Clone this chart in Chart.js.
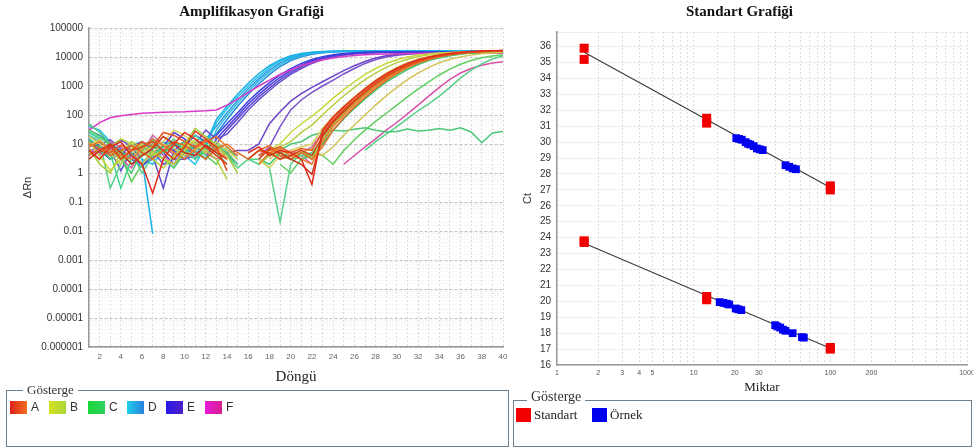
<!DOCTYPE html>
<html lang="tr">
<head>
<meta charset="utf-8">
<title>Amplifikasyon ve Standart Grafiği</title>
<script src="https://cdn.jsdelivr.net/npm/chart.js@4.4.1/dist/chart.umd.min.js"></script>
<style>
  html, body { margin: 0; padding: 0; background: #fff; overflow: hidden; }
  #page { position: relative; width: 973px; height: 448px; overflow: hidden; }
  canvas { position: absolute; top: 0; }
  #amp { left: 0; }
  #std { left: 512px; }
  .legend-box { position: absolute; box-sizing: border-box; border: 1px solid #6e7f8d; }
  .legend-title { position: absolute; background: #fff; padding: 0 4px; color: #333;
    font-family: 'Liberation Serif', 'Times New Roman', serif; white-space: nowrap; }
  .legend-items { position: absolute; display: flex; align-items: center; }
  .item { display: flex; align-items: center; }
  .sw { display: inline-block; }
  #ampLegend { left: 6px; top: 390px; width: 503px; height: 57px; }
  #ampLegend .legend-title { left: 16px; top: -9px; font-size: 13px; line-height: 15px; }
  #ampLegend .legend-items { left: 3px; top: 9px; }
  #ampLegend .item { width: 39px; font: 12px 'Liberation Sans', Arial, sans-serif; color: #333; }
  #ampLegend .sw { width: 17px; height: 13px; margin-right: 4px; }
  #stdLegend { left: 513px; top: 400px; width: 459px; height: 47px; }
  #stdLegend .legend-title { left: 13px; top: -12px; font-size: 14px; line-height: 16px; }
  #stdLegend .legend-items { left: 2px; top: 6px; }
  #stdLegend .item { font: 13px 'Liberation Serif', 'Times New Roman', serif; color: #222; }
  #stdLegend .sw { width: 15px; height: 14px; margin-right: 3px; }
</style>
</head>
<body>
<div id="page">
  <canvas id="amp" width="510" height="390"></canvas>
  <canvas id="std" width="470" height="398"></canvas>
  <div class="legend-box" id="ampLegend">
    <span class="legend-title">Gösterge</span>
    <div class="legend-items" id="ampItems"></div>
  </div>
  <div class="legend-box" id="stdLegend">
    <span class="legend-title">Gösterge</span>
    <div class="legend-items" id="stdItems"></div>
  </div>
</div>
<script>
// ---- amplification plot data (ΔRn per cycle, null = not plotted) ----
const cycles = [1, 2, 3, 4, 5, 6, 7, 8, 9, 10, 11, 12, 13, 14, 15, 16, 17, 18, 19, 20,
  21, 22, 23, 24, 25, 26, 27, 28, 29, 30, 31, 32, 33, 34, 35, 36, 37, 38, 39, 40];

const deltaRnTicks = ['0.000001', '0.00001', '0.0001', '0.001', '0.01', '0.1', '1', '10', '100', '1000', '10000', '100000'];

const wellA1 = [
  6, 3, 8, 12, 4, 2, 0.2, 3, 10, 25,
  15, 8, 4, 2, null, 5, 8, 4, 6, 5,
  3, 0.4, 30, 85, 190, 400, 800, 1500, 2600, 4100,
  6000, 8000, 10000, 11800, 13300, 14500, 15400, 16000, 16500, 16800];
const wellA2 = [
  4, 7, 5, 9, 6, 12, 8, 25, 20, 12,
  8, 14, 6, 3, null, null, 4, 6, 8, 5,
  7, 6, 25, 70, 160, 340, 680, 1300, 2300, 3700,
  5500, 7500, 9500, 11300, 12900, 14100, 15000, 15700, 16200, 16500];
const wellA3 = [
  null, 5, 9, 3, 6, 8, 12, 6, 3, 8,
  28, 15, 8, 1.2, null, 3, 6, 5, 3, 4,
  6, 4, 18, 55, 130, 290, 600, 1150, 2050, 3400,
  5100, 7100, 9100, 10900, 12500, 13800, 14800, 15500, 16000, 16400];
const wellA4 = [
  8, 12, 6, 4, 3, 7, 15, 9, 5, 3,
  7, 12, 18, 8, 4, null, 2, 5, 7, 4,
  3, 2, 12, 40, 100, 230, 480, 950, 1750, 2950,
  4600, 6500, 8500, 10400, 12000, 13400, 14500, 15300, 15900, 16300];
const wellA5 = [
  3, 6, 10, 5, 2, 4, 7, 18, 10, 5,
  4, 9, 5, 3, null, null, 3, 7, 5, 3,
  2, 0.9, 20, 60, 140, 310, 640, 1250, 2200, 3600,
  5300, 7300, 9300, 11100, 12700, 14000, 15000, 15700, 16200, 16600];
const wellA6 = [
  10, 7, 4, 6, 9, 5, 3, 6, 12, 9,
  5, 3, 7, 10, 5, 3, 6, 9, 4, 3,
  5, 3, 8, 30, 80, 190, 400, 820, 1550, 2700,
  4300, 6200, 8200, 10200, 11900, 13300, 14400, 15200, 15800, 16200];

const wellB1 = [
  12, 4, 1.2, 3, 6, 10, 5, 3, 2, 6,
  15, 8, 4, 2, null, null, 4, 6, 10, 25,
  50, 90, 180, 380, 750, 1400, 2500, 4000, 6000, 8000,
  10000, 11500, 12800, 13700, 14300, 14800, 15100, 15300, 15400, 15500];
const wellB2 = [
  5, 3, 8, 15, 10, 6, 3, 1.5, 4, 9,
  12, 6, 3, 0.6, null, null, 2, 4, 8, 12,
  25, 45, 100, 220, 460, 900, 1650, 2800, 4400, 6400,
  8400, 10300, 11900, 13100, 14000, 14600, 15000, 15300, 15500, 15600];
const wellB3 = [
  18, 10, 5, 2, 8, 4, 9, 12, 30, 20,
  10, 5, 12, 6, 3, null, 3, 1.5, 4, 6,
  8, 10, 35, 90, 200, 420, 850, 1600, 2800, 4400,
  6400, 8500, 10400, 12000, 13300, 14300, 15000, 15500, 15800, 16000];
const wellB4 = [
  7, 2, 1, 5, 12, 8, 4, 6, 3, 10,
  35, 18, 9, 4, 1, null, 2, 5, 3, 4,
  6, 3, 14, 45, 110, 250, 520, 1000, 1850, 3100,
  4800, 6800, 8800, 10700, 12300, 13600, 14600, 15300, 15800, 16100];
const wellB5 = [
  9, 14, 6, 3, 7, 2, 5, 10, 7, 4,
  6, 15, 9, 3, null, null, null, 3, 6, 4,
  5, 7, 4, 8, 20, 45, 100, 220, 460, 900,
  1650, 2800, 4400, 6300, 8300, 10100, 11700, 12900, 13800, 14400];

const wellC1 = [
  50, 25, 10, 3, 1, 6, 10, 5, 8, 12,
  6, 3, 8, 4, 2, null, 2, 4, 6, 10,
  12, 20, 25, 30, 28, 32, 36, 30, 26, 27,
  33, 28, 30, 34, 30, 36, 26, 11, 24, 27];
const wellC2 = [
  20, 12, 0.3, 2, 5, 1, 4, 8, 15, 6,
  3, 8, 12, 4, 1.5, 3, 3, 1.5, 0.02, 2,
  5, 3, null, null, null, null, 6, 12, 22, 40,
  75, 140, 240, 450, 900, 1900, 3500, 5800, 8500, 11000];
const wellC3 = [
  25, 15, 5, 0.3, 3, 8, 14, 6, 3, 10,
  20, 10, 5, 2, null, 3, 2, 5, 4, 3,
  4, 5, 15, 45, 110, 250, 520, 1000, 1800, 3000,
  4600, 6500, 8500, 10300, 11900, 13100, 14000, 14700, 15100, 15400];
const wellC4 = [
  30, 18, 9, 4, 0.5, 2, 6, 3, 1.5, 5,
  10, 4, 2, 8, 3, null, null, null, 2, 1,
  3, 5, 4, 2, 6, 14, 30, 60, 115, 220,
  420, 780, 1400, 2400, 3800, 5600, 7600, 9400, 10900, 12000];
const wellC5 = [
  14, 8, 3, 6, 2, 4, 8, 5, 12, 7,
  3, 6, 9, 5, 2, null, 3, 2, 5, 4,
  3, 4, 10, 30, 75, 170, 360, 720, 1350, 2300,
  3700, 5500, 7500, 9400, 11100, 12500, 13600, 14400, 14900, 15200];

const wellD1 = [
  25, 15, 6, 4, null, 3, 0.008, null, 5, 8,
  4, 10, 70, 200, 520, 1250, 2700, 5000, 8000, 11000,
  13200, 14600, 15400, 15900, 16200, 16300, 16300, 16400, 16400, 16400,
  16400, 16400, 16400, 16400, 16400, 16400, 16400, 16400, 16400, 16400];
const wellD2 = [
  40, 30, 12, 5, 8, 3, 2, 6, 10, 4,
  2, 8, 55, 160, 420, 1000, 2200, 4300, 7200, 10200,
  12600, 14200, 15100, 15700, 16000, 16100, 16200, 16200, 16200, 16200,
  16200, 16200, 16200, 16200, 16200, 16200, 16200, 16200, 16200, 16200];
const wellD3 = [
  10, 6, 3, null, 2, 4, 8, 12, 6, 3,
  6, 15, 40, 120, 320, 800, 1800, 3600, 6300, 9300,
  11900, 13700, 14800, 15400, 15800, 15900, 16000, 16000, 16000, 16000,
  16000, 16000, 16000, 16000, 16000, 16000, 16000, 16000, 16000, 16000];
const wellD4 = [
  15, 8, 4, 2, 9, 12, 5, 3, 1.5, 5,
  8, 4, 30, 95, 260, 650, 1500, 3000, 5500, 8400,
  11000, 13100, 14400, 15200, 15600, 15800, 15900, 15900, 15900, 15900,
  15900, 15900, 15900, 15900, 15900, 15900, 15900, 15900, 15900, 15900];
const wellD5 = [
  30, 20, 10, 6, 3, 1.6, 4, 9, 12, 6,
  3, 10, 22, 70, 200, 520, 1200, 2500, 4700, 7500,
  10200, 12500, 14000, 14900, 15400, 15600, 15700, 15800, 15800, 15800,
  15800, 15800, 15800, 15800, 15800, 15800, 15800, 15800, 15800, 15800];

const wellE1 = [
  12, 8, 6, 3, 4, 8, 15, 5, 2, 8,
  20, 12, 20, 50, 120, 300, 650, 1300, 2400, 4000,
  6000, 8200, 10300, 12000, 13200, 14000, 14500, 14800, 15000, 15000,
  15000, 15000, 15000, 15000, 15000, 15000, 15000, 15000, 15000, 15000];
const wellE2 = [
  8, 10, 4, null, 5, 2, 3, 8, 25, 15,
  6, 3, 15, 38, 95, 240, 520, 1050, 2000, 3400,
  5200, 7400, 9500, 11300, 12700, 13600, 14200, 14600, 14800, 14800,
  14800, 14800, 14800, 14800, 14800, 14800, 14800, 14800, 14800, 14800];
const wellE3 = [
  20, 12, 7, 1.2, 6, 10, 4, 0.3, 6, 12,
  8, 5, 10, 30, 75, 190, 420, 850, 1650, 2900,
  4600, 6700, 8800, 10700, 12200, 13200, 13900, 14300, 14600, 14600,
  14600, 14600, 14600, 14600, 14600, 14600, 14600, 14600, 14600, 14600];
const wellE4 = [
  6, 5, 9, 14, 8, 4, 6, 2, 3, 3,
  10, 30, 15, 22, 55, 150, 340, 700, 1400, 2500,
  4000, 6000, 8100, 10000, 11600, 12800, 13500, 14000, 14300, 14300,
  14300, 14300, 14300, 14300, 14300, 14300, 14300, 14300, 14300, 14300];
const wellE5 = [
  10, 6, 3, 5, 8, 12, 6, 3, 2, 5,
  10, 14, 8, 5, 6, 6, 10, 50, 130, 300,
  550, 900, 1400, 2200, 3400, 5000, 7000, 9300, 11000, 12300,
  13200, 13700, 14000, 14200, 14300, 14400, 14400, 14400, 14400, 14400];
const wellE6 = [
  5, 9, 14, 7, 3, 2, 5, 9, 6, 3,
  4, 7, 12, 6, 4, null, 4, 8, 40, 150,
  330, 600, 1000, 1600, 2600, 4000, 6000, 8200, 10000, 11500,
  12500, 13200, 13600, 13900, 14000, 14100, 14100, 14100, 14100, 14100];

const wellF1 = [
  30, 55, 80, 95, 105, 115, 120, 125, 128, 130,
  135, 140, 150, 220, 350, 600, 1000, 1600, 2500, 3600,
  5000, 6500, 8000, 9300, 10500, 11300, 12000, 12500, 12800, 13000,
  13200, 13300, 13400, 13500, 13500, 13500, 13500, 13500, 13500, 13500];
const wellF2 = [
  null, 4, 8, 3, 1.5, 6, 10, 4, 2, 6,
  9, 5, 3, null, null, null, 2, 5, 3, 6,
  4, 2, null, null, 2, 4, 8, 15, 30, 55,
  110, 220, 450, 900, 1700, 2800, 4000, 5200, 6200, 6800];
const wellF3 = [
  7, 4, 12, 8, 3, 5, 20, 9, 4, 7,
  12, 6, 3, 5, 2, null, 4, 8, 6, 3,
  5, 8, 25, 65, 150, 330, 680, 1300, 2300, 3800,
  5600, 7600, 9500, 11200, 12500, 13500, 14200, 14700, 15000, 15200];

// first dataset is drawn on top
const wellCurves = [
  wellA1, wellA2, wellA3, wellA4, wellA5, wellA6,
  wellB1, wellB2, wellB3, wellB4, wellB5,
  wellC1, wellC2, wellC3, wellC4, wellC5,
  wellF1, wellF2, wellF3,
  wellE1, wellE2, wellE3, wellE4, wellE5, wellE6,
  wellD1, wellD2, wellD3, wellD4, wellD5
];
const wellColors = [
  '#e02a1c', '#e85820', '#d84218', '#ec7a2a', '#c83018', '#e06a22',
  '#c8d83a', '#b4d040', '#d8d060', '#a8cc3c', '#d2c454',
  '#4cc878', '#58d088', '#40d890', '#62d060', '#3cc46c',
  '#d83ac8', '#d852a8', '#c86aa8',
  '#3a40e0', '#4b3ad8', '#5a48d0', '#6850d0', '#6c44c8', '#7a52cc',
  '#1ab0e8', '#22c2e4', '#2a9ce6', '#34bce0', '#1f88e0'
];

const groupNames = ['A', 'B', 'C', 'D', 'E', 'F'];
const groupSwatches = [
  'linear-gradient(90deg, #e0201c, #f07020)',
  'linear-gradient(90deg, #d8e020, #a8d838)',
  'linear-gradient(90deg, #18d838, #30d060)',
  'linear-gradient(90deg, #20d0e8, #2a80e0)',
  'linear-gradient(90deg, #2818e8, #5020c8)',
  'linear-gradient(90deg, #e818d8, #d82090)'
];

// ---- standard curve data (Miktar vs Ct) ----
const qtyTicks = [1, 2, 3, 4, 5, 10, 20, 30, 100, 200, 1000];
const stdQty = [1.58, 1.58, 12.45, 12.45, 100, 100];
const stdCtHigh = [35.9, 35.2, 31.5, 31.2, 27.25, 27.0];
const stdCtLow = [23.8, 23.7, 20.3, 20.1, 17.1, 17.0];
const sampleQtyHigh = [20.5, 21.5, 22.5, 24, 25, 26, 27.5, 29, 30.5, 32, 47, 50, 53, 56];
const sampleCtHigh = [30.25, 30.2, 30.15, 30.0, 29.9, 29.85, 29.75, 29.6, 29.55, 29.5, 28.55, 28.45, 28.35, 28.3];
const sampleQtyLow = [15.5, 16.5, 17.5, 18.2, 20.3, 21.2, 22.3, 39.5, 41, 43, 45, 47, 53, 62, 64];
const sampleCtLow = [19.95, 19.9, 19.85, 19.8, 19.55, 19.5, 19.45, 18.5, 18.42, 18.35, 18.22, 18.15, 18.0, 17.75, 17.72];
const fitQty = [1.58, 100];
const fitCtHigh = [35.65, 27.15];
const fitCtLow = [23.65, 17.05];

// ---- helpers ----
const SERIF = "'Liberation Serif', 'Times New Roman', serif";
Chart.defaults.font.family = "'Liberation Sans', Arial, sans-serif";
Chart.defaults.color = '#333';

const decadeIndex = v => {
  const e = Math.log10(v);
  return Math.abs(e - Math.round(e)) < 1e-9 ? Math.round(e) : null;
};
const toPoints = (xs, ys) => xs.map((x, i) => ({ x: x, y: ys[i] }));

// ---- amplification chart ----
new Chart(document.getElementById('amp'), {
  type: 'line',
  data: {
    labels: cycles,
    datasets: wellCurves.map((values, i) => ({
      data: values,
      borderColor: wellColors[i],
      borderWidth: 1.5,
      pointRadius: 0,
      tension: 0,
      spanGaps: false,
      fill: false
    }))
  },
  options: {
    responsive: false,
    animation: false,
    events: [],
    layout: { padding: { left: 0, right: 7, top: 0, bottom: 0 } },
    plugins: {
      legend: { display: false },
      tooltip: { enabled: false },
      title: {
        display: true,
        text: 'Amplifikasyon Grafiği',
        color: '#111',
        font: { family: SERIF, size: 15, weight: 'bold' },
        padding: { top: 3, bottom: 7 }
      }
    },
    scales: {
      x: {
        type: 'linear',
        min: 1,
        max: 40,
        afterFit: s => { s.height = 43; s.paddingLeft = 0; s.paddingRight = 0; },
        ticks: {
          stepSize: 1, autoSkip: false, maxRotation: 0, padding: 5,
          color: '#666', font: { size: 8 },
          callback: v => (v % 2 === 0 ? String(v) : '')
        },
        grid: { color: '#dcdcdc', drawTicks: false },
        border: { color: '#9a9a9a', width: 1.5, dash: [2, 2] },
        title: {
          display: true, text: 'Döngü', color: '#222',
          font: { family: SERIF, size: 15 },
          padding: { top: 0, bottom: 4 }
        }
      },
      y: {
        type: 'logarithmic',
        min: 0.000001,
        max: 100000,
        afterFit: s => { s.width = 89; s.paddingTop = 0; s.paddingBottom = 0; },
        ticks: {
          autoSkip: false, padding: 6, color: '#333', font: { size: 10 },
          callback: v => {
            const e = decadeIndex(v);
            return e === null ? '' : deltaRnTicks[e + 6];
          }
        },
        grid: {
          drawTicks: false,
          color: c => (c.tick && decadeIndex(c.tick.value) !== null ? '#c2c2c2' : '#e8e8e8')
        },
        border: {
          color: '#9a9a9a', width: 1.5,
          dash: c => (c.tick && decadeIndex(c.tick.value) !== null ? [3, 2] : [1, 2])
        },
        title: {
          display: true, text: 'ΔRn', color: '#333',
          font: { size: 11 },
          padding: { top: 21, bottom: 0 }
        }
      }
    }
  }
});

// ---- standard curve chart ----
new Chart(document.getElementById('std'), {
  type: 'scatter',
  data: {
    datasets: [
      {
        label: 'Standart',
        data: toPoints(stdQty, stdCtHigh).concat(toPoints(stdQty, stdCtLow)),
        backgroundColor: '#f20000',
        borderWidth: 0,
        pointStyle: 'rect',
        pointRadius: 6.4,
        order: 1
      },
      {
        label: 'Örnek',
        data: toPoints(sampleQtyHigh, sampleCtHigh).concat(toPoints(sampleQtyLow, sampleCtLow)),
        backgroundColor: '#0000f0',
        borderWidth: 0,
        pointStyle: 'rect',
        pointRadius: 5.5,
        order: 2
      },
      {
        type: 'line',
        label: 'fit1',
        data: toPoints(fitQty, fitCtHigh),
        borderColor: '#3c3c3c',
        borderWidth: 1.2,
        pointRadius: 0,
        order: 3
      },
      {
        type: 'line',
        label: 'fit2',
        data: toPoints(fitQty, fitCtLow),
        borderColor: '#3c3c3c',
        borderWidth: 1.2,
        pointRadius: 0,
        order: 3
      }
    ]
  },
  options: {
    responsive: false,
    animation: false,
    events: [],
    layout: { padding: { left: 0, right: 15, top: 0, bottom: 0 } },
    plugins: {
      legend: { display: false },
      tooltip: { enabled: false },
      title: {
        display: true,
        text: 'Standart Grafiği',
        color: '#111',
        font: { family: SERIF, size: 15, weight: 'bold' },
        padding: { top: 3, bottom: 11 }
      }
    },
    scales: {
      x: {
        type: 'logarithmic',
        min: 1,
        max: 1000,
        afterFit: s => { s.height = 33; s.paddingLeft = 0; s.paddingRight = 0; },
        ticks: {
          autoSkip: false, maxRotation: 0, padding: 4, color: '#555', font: { size: 7 },
          callback: v => (qtyTicks.some(q => Math.abs(q - v) < 1e-6) ? String(v) : '')
        },
        grid: { color: '#dedede', drawTicks: false },
        border: { color: '#9a9a9a', width: 1.5, dash: [2, 2] },
        title: {
          display: true, text: 'Miktar', color: '#222',
          font: { family: SERIF, size: 13 },
          padding: { top: 0, bottom: 3 }
        }
      },
      y: {
        type: 'linear',
        min: 16,
        max: 36.92,
        afterFit: s => { s.width = 45; s.paddingTop = 0; s.paddingBottom = 0; },
        ticks: {
          stepSize: 1, autoSkip: false, padding: 6, color: '#333', font: { size: 10 },
          callback: v => (Number.isInteger(v) ? String(v) : '')
        },
        grid: { color: '#dedede', drawTicks: false },
        border: { color: '#9a9a9a', width: 1.5, dash: [2, 2] },
        title: {
          display: true, text: 'Ct', color: '#333',
          font: { size: 11 },
          padding: { top: 9, bottom: 0 }
        }
      }
    }
  }
});

// ---- legends ----
const ampItems = document.getElementById('ampItems');
groupNames.forEach((name, i) => {
  const item = document.createElement('span');
  item.className = 'item';
  item.innerHTML = '<span class="sw" style="background:' + groupSwatches[i] + '"></span>' + name;
  ampItems.appendChild(item);
});

const stdItems = document.getElementById('stdItems');
[['Standart', '#f20000', 76], ['Örnek', '#0000f0', 60]].forEach(([name, color, w]) => {
  const item = document.createElement('span');
  item.className = 'item';
  item.style.width = w + 'px';
  item.innerHTML = '<span class="sw" style="background:' + color + '"></span>' + name;
  stdItems.appendChild(item);
});
</script>
</body>
</html>
